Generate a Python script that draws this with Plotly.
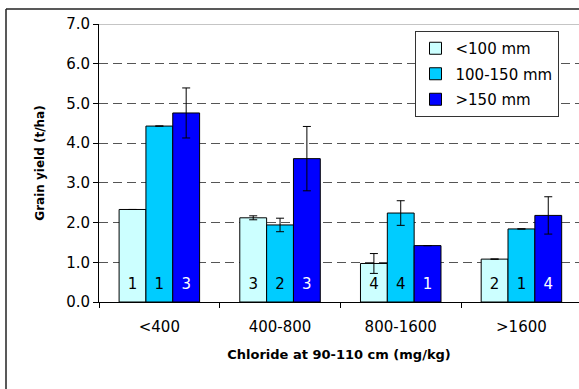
import plotly.graph_objects as go

categories = ["<400", "400-800", "800-1600", ">1600"]
series_names = ["<100 mm", "100-150 mm", ">150 mm"]

yield_lt100 = [2.33, 2.12, 0.97, 1.08]
yield_100_150 = [4.43, 1.94, 2.24, 1.84]
yield_gt150 = [4.76, 3.61, 1.42, 2.18]

err_lt100 = [0.0, 0.05, 0.25, 0.0]
err_100_150 = [0.0, 0.17, 0.31, 0.0]
err_gt150 = [0.63, 0.81, 0.0, 0.47]

n_lt100 = [1, 3, 4, 2]
n_100_150 = [1, 2, 4, 1]
n_gt150 = [3, 3, 1, 4]

colors = ["#CCFFFF", "#00CCFF", "#0000FF"]
text_colors = ["black", "black", "white"]

FONT = "DejaVu Sans"
XRANGE = [-0.5, 3.477]
BARGAP = 0.333
LABEL_Y = 0.41

values = [yield_lt100, yield_100_150, yield_gt150]
errors = [err_lt100, err_100_150, err_gt150]
counts = [n_lt100, n_100_150, n_gt150]

fig = go.Figure()
for i in range(3):
    fig.add_trace(go.Bar(
        x=categories, y=values[i], name=series_names[i],
        marker=dict(color=colors[i], line=dict(color="black", width=1)),
        error_y=dict(type="data", array=errors[i], visible=True,
                     color="black", thickness=1, width=4),
        legendgroup=f"g{i}",
    ))

# n labels inside bars, on an overlaid numeric axis
bar_w = (1 - BARGAP) / 3
for i in range(3):
    off = (i - 1) * bar_w
    fig.add_trace(go.Scatter(
        x=[k + off for k in range(len(categories))],
        y=[LABEL_Y] * len(categories),
        text=[str(c) for c in counts[i]],
        mode="text",
        textfont=dict(family=FONT, size=15, color=text_colors[i]),
        xaxis="x2", showlegend=False, hoverinfo="skip",
    ))

fig.update_layout(
    width=579, height=389,
    margin=dict(l=99, r=0, t=24, b=87),
    paper_bgcolor="white", plot_bgcolor="white",
    barmode="group", bargap=BARGAP, bargroupgap=0,
    font=dict(family=FONT, size=15, color="black"),
    showlegend=True,
    legend=dict(
        x=(558.5 - 99) / 480, xanchor="right",
        y=(302 - 31) / 278, yanchor="top",
        bgcolor="white", bordercolor="#333333", borderwidth=1,
        font=dict(family=FONT, size=15, color="black"),
        tracegroupgap=3,
    ),
    xaxis=dict(
        range=XRANGE, type="category",
        showline=True, linecolor="black", linewidth=1,
        ticks="outside", tickson="boundaries", ticklen=5, tickcolor="black",
        ticklabelstandoff=11,
        showgrid=False,
        tickfont=dict(family=FONT, size=15, color="black"),
        title=dict(text="Chloride at 90-110 cm (mg/kg)",
                   font=dict(family=FONT, size=13, color="black", weight="bold"),
                   standoff=14),
    ),
    xaxis2=dict(range=XRANGE, overlaying="x", visible=False, type="linear"),
    yaxis=dict(
        range=[0, 7], dtick=1, tickformat=".1f",
        showline=True, linecolor="black", linewidth=1,
        ticks="outside", ticklen=5, tickcolor="black",
        showgrid=True, gridcolor="#555555", griddash="9px,5px", gridwidth=1,
        zeroline=False,
        tickfont=dict(family=FONT, size=15, color="black"),
        title=dict(text="Grain yield (t/ha)",
                   font=dict(family=FONT, size=12, color="black", weight="bold"),
                   standoff=18),
    ),
    shapes=[
        dict(type="line", xref="paper", yref="y", x0=0, x1=1, y0=7, y1=7,
             line=dict(color="#8c8c8c", width=1), layer="above"),
        dict(type="line", xref="paper", yref="paper",
             x0=(6 - 99) / 480, x1=1.02, y0=(302 - 9) / 278, y1=(302 - 9) / 278,
             line=dict(color="#222222", width=1.5)),
        dict(type="line", xref="paper", yref="paper",
             x0=(6 - 99) / 480, x1=(6 - 99) / 480, y0=(302 - 9) / 278, y1=(302 - 400) / 278,
             line=dict(color="#222222", width=1.5)),
    ],
)

fig.write_html("out.html")
